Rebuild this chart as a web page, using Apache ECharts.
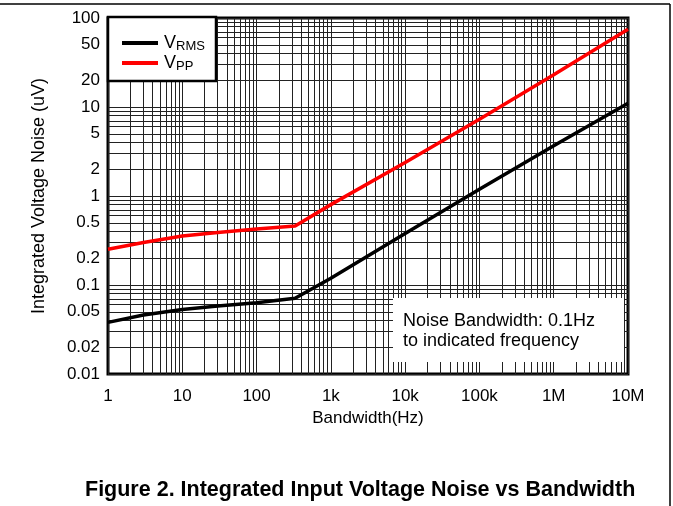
<!DOCTYPE html>
<html><head><meta charset="utf-8">
<script src="https://cdn.jsdelivr.net/npm/echarts@6/dist/echarts.min.js"></script>
<style>html,body{margin:0;padding:0;background:#fff}#c{width:673px;height:506px}</style>
</head><body><div id="c"></div>
<script>
const bandwidthHz = [1, 3, 10, 30, 100, 330, 1000, 10000, 100000, 1000000, 10000000];
const vrms = [0.038, 0.046, 0.053, 0.058, 0.063, 0.071, 0.119, 0.38, 1.19, 3.67, 11.0];
const vpp = [0.252, 0.30, 0.356, 0.39, 0.426, 0.46, 0.80, 2.38, 7.3, 23, 74.6];
const xTickValues = [1, 10, 100, 1e3, 1e4, 1e5, 1e6, 1e7];
const xTickLabels = ['1', '10', '100', '1k', '10k', '100k', '1M', '10M'];
const yTickValues = [0.01, 0.02, 0.05, 0.1, 0.2, 0.5, 1, 2, 5, 10, 20, 50, 100];
const yTickLabels = ['0.01', '0.02', '0.05', '0.1', '0.2', '0.5', '1', '2', '5', '10', '20', '50', '100'];

function logGrid(minExp, maxExp) {
  const out = [];
  for (let k = minExp; k < maxExp; k++) {
    for (let m = 1; m <= 9; m++) out.push(Number((m * Math.pow(10, k)).toPrecision(3)));
  }
  out.push(Number(Math.pow(10, maxExp).toPrecision(3)));
  return out;
}
const xGrid = logGrid(0, 7);
const yGrid = logGrid(-2, 2);

const FONT = 'Liberation Sans';
const chart = echarts.init(document.getElementById('c'), null, {renderer: 'canvas'});
const gridLines = [].concat(
  xGrid.map(v => ({xAxis: v})),
  yGrid.map(v => ({yAxis: v}))
);
function pick(values, labels) {
  return v => { const i = values.findIndex(t => Math.abs(Math.log10(t) - Math.log10(v)) < 1e-6); return i >= 0 ? labels[i] : ''; };
}
chart.setOption({
  animation: false,
  backgroundColor: '#fff',
  textStyle: {fontFamily: FONT},
  grid: {left: 108, top: 18, right: 45, bottom: 132, show: true, borderColor: '#000', borderWidth: 3, backgroundColor: 'transparent'},
  xAxis: {
    type: 'log', logBase: 10, min: 1, max: 1e7, interval: 1,
    name: 'Bandwidth(Hz)', nameLocation: 'middle', nameGap: 35,
    nameTextStyle: {fontSize: 17, color: '#000', fontFamily: FONT},
    axisLine: {show: false}, axisTick: {show: false}, splitLine: {show: false},
    axisLabel: {customValues: xTickValues, fontSize: 17, color: '#000', fontFamily: FONT, margin: 14, formatter: pick(xTickValues, xTickLabels)}
  },
  yAxis: {
    type: 'log', logBase: 10, min: 0.01, max: 100,
    name: 'Integrated Voltage Noise (uV)', nameLocation: 'middle', nameGap: 60,
    nameTextStyle: {fontSize: 18, color: '#000', fontFamily: FONT},
    axisLine: {show: false}, axisTick: {show: false}, splitLine: {show: false},
    axisLabel: {customValues: yTickValues, fontSize: 17, color: '#000', fontFamily: FONT, margin: 8, formatter: pick(yTickValues, yTickLabels)}
  },
  legend: {
    orient: 'vertical', left: 117, top: 29, z: 200,
    itemWidth: 36, itemHeight: 4, itemGap: 1, icon: 'rect',
    selectedMode: false,
    data: ['VRMS', 'VPP'],
    formatter: name => name === 'VRMS' ? '{a|V}{b|RMS}' : '{a|V}{b|PP}',
    textStyle: {
      color: '#000', fontFamily: FONT,
      rich: {
        a: {fontSize: 18, lineHeight: 20, padding: [0, 0, 0, 1], fontFamily: FONT, color: '#000'},
        b: {fontSize: 13, lineHeight: 20, verticalAlign: 'bottom', padding: [6, 0, 0, 0], fontFamily: FONT, color: '#000'}
      }
    }
  },
  graphic: [
    {type: 'line', z: 100, shape: {x1: 0, y1: 4, x2: 670, y2: 4}, style: {stroke: '#000', lineWidth: 1.5}},
    {type: 'line', z: 100, shape: {x1: 670, y1: 4, x2: 670, y2: 506}, style: {stroke: '#000', lineWidth: 1.5}},
    {type: 'rect', z: 100, shape: {x: 108, y: 17, width: 108, height: 64}, style: {fill: '#fff', stroke: '#000', lineWidth: 2.5}},
    {type: 'rect', z: 100, shape: {x: 393, y: 298, width: 231, height: 64}, style: {fill: '#fff', stroke: null}},
    {type: 'text', z: 101, left: 403, top: 311, style: {text: 'Noise Bandwidth: 0.1Hz\nto indicated frequency', font: '18px "Liberation Sans"', fill: '#000', lineHeight: 20}},
    {type: 'text', z: 101, left: 85, top: 479, style: {text: 'Figure 2. Integrated Input Voltage Noise vs Bandwidth', font: 'bold 21.5px "Liberation Sans"', fill: '#000'}}
  ],
  series: [
    {
      name: 'VRMS', type: 'line', data: bandwidthHz.map((x, i) => [x, vrms[i]]),
      showSymbol: false, symbol: 'none', lineStyle: {color: '#000', width: 3.5}, itemStyle: {color: '#000'}, z: 5,
      markLine: {silent: true, symbol: 'none', label: {show: false}, animation: false,
        lineStyle: {color: '#222', width: 1, type: 'solid'}, emphasis: {disabled: true}, data: gridLines}
    },
    {
      name: 'VPP', type: 'line', data: bandwidthHz.map((x, i) => [x, vpp[i]]),
      showSymbol: false, symbol: 'none', lineStyle: {color: '#ff0000', width: 3.5}, itemStyle: {color: '#ff0000'}, z: 5
    }
  ]
});
</script>
</body></html>
